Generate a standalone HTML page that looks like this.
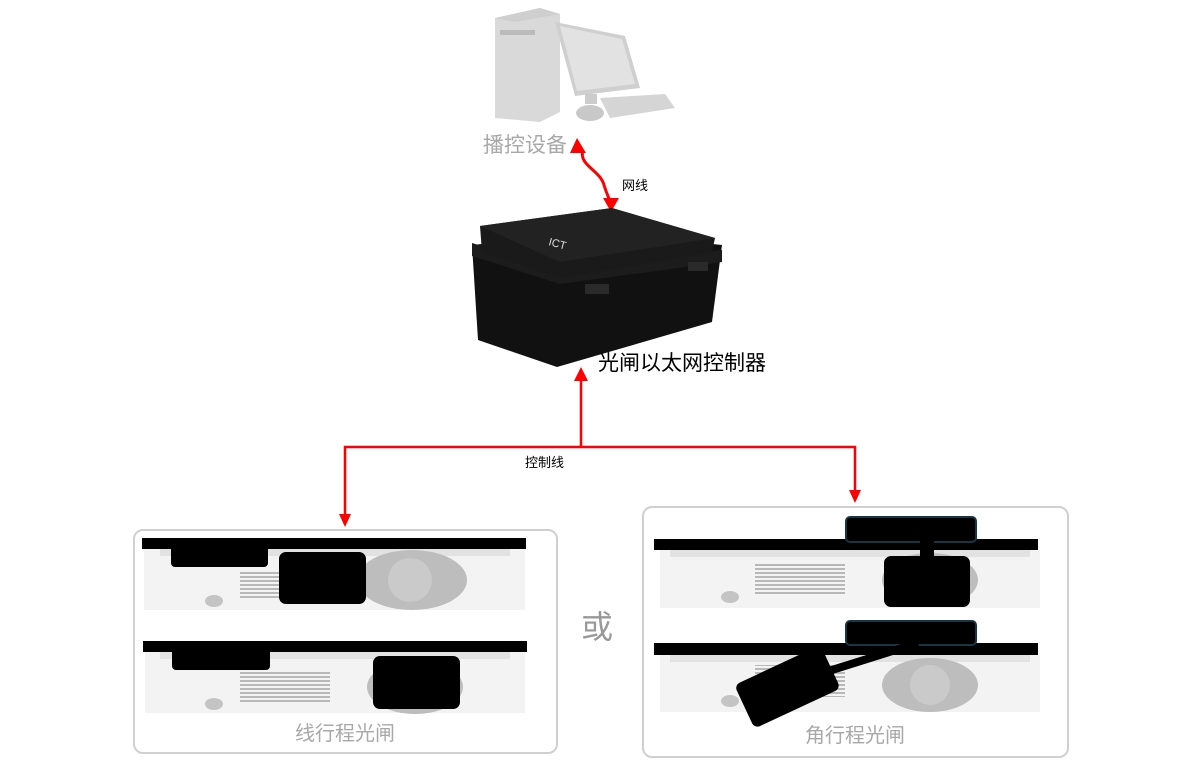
<!DOCTYPE html>
<html><head><meta charset="utf-8"><style>
html,body{margin:0;padding:0;background:#fff;}
svg{display:block;font-family:"Liberation Sans","Noto Sans CJK SC",sans-serif;}
</style></head><body>
<svg width="1200" height="771" viewBox="0 0 1200 771" xmlns="http://www.w3.org/2000/svg">
<defs>
<pattern id="vent" width="10" height="4" patternUnits="userSpaceOnUse">
<rect width="10" height="4" fill="#f3f3f3"/><rect width="10" height="2" fill="#b8b8b8"/></pattern>
</defs>
<!-- computer -->
<g>
<polygon points="495,18 540,8 560,14 560,112 540,122 495,118" fill="#d9d9d9"/>
<polygon points="495,18 540,8 560,14 515,22" fill="#cfcfcf"/>
<rect x="500" y="30" width="35" height="5" fill="#bbb"/>
<polygon points="555,22 625,36 640,88 575,96" fill="#cfcfcf"/>
<polygon points="560,26 622,39 635,84 577,91" fill="#e2e2e2"/>
<rect x="585" y="94" width="12" height="10" fill="#ccc"/>
<polygon points="600,98 665,94 675,108 610,118" fill="#d5d5d5"/>
<ellipse cx="590" cy="113" rx="14" ry="8" fill="#c8c8c8"/>
</g>
<text x="483" y="152" font-size="21" fill="#a8a8a8">播控设备</text>
<!-- wavy arrow -->
<path d="M583,150 C578,165 600,170 604,185 C607,195 610,200 610,202" stroke="#f00" stroke-width="3" fill="none"/>
<polygon points="577,138 570,153 586,153" fill="#f00"/>
<polygon points="611,212 603,198 619,198" fill="#f00"/>
<text x="622" y="190" font-size="13" fill="#000">网线</text>
<!-- box -->
<g>
<polygon points="472,245 478,340 557,367 712,322 722,245 600,232" fill="#111"/>
<polygon points="472,243 560,270 722,250 722,262 560,284 472,256" fill="#1c1c1c"/>
<polygon points="480,226 612,208 715,238 712,252 560,278 482,252" fill="#1a1a1a"/>
<polygon points="480,226 612,208 715,238 560,262" fill="#222"/>
<text x="548" y="245" font-size="11" fill="#ddd" transform="rotate(15 548 245)">ICT</text>
<rect x="585" y="284" width="24" height="10" fill="#2a2a2a"/>
<rect x="688" y="262" width="20" height="9" fill="#2a2a2a"/>
</g>
<text x="598" y="370" font-size="21" fill="#000">光闸以太网控制器</text>
<!-- control lines -->
<path d="M581,447 L581,380" stroke="#f00" stroke-width="2.5" fill="none"/>
<polygon points="581,367 574,381 588,381" fill="#f00"/>
<path d="M345,514 L345,447 L855,447 L855,490" stroke="#f00" stroke-width="2.5" fill="none"/>
<polygon points="345,527 339,514 351,514" fill="#f00"/>
<polygon points="855,503 849,490 861,490" fill="#f00"/>
<text x="525" y="467" font-size="13" fill="#000">控制线</text>
<!-- left panel -->
<rect x="134" y="530" width="423" height="223" rx="9" fill="#fff" stroke="#d0d0d0" stroke-width="2"/>
<g>
<rect x="144" y="549" width="381" height="61" fill="#f3f3f3"/>
<rect x="160" y="548" width="350" height="8" fill="#e2e2e2"/>
<ellipse cx="412" cy="580" rx="55" ry="30" fill="#bdbdbd"/>
<circle cx="410" cy="580" r="22" fill="#cacaca"/>
<rect x="240" y="570" width="90" height="30" fill="url(#vent)"/>
<ellipse cx="214" cy="601" rx="9" ry="6" fill="#c4c4c4"/>
<rect x="142" y="538" width="384" height="11" fill="#000"/>
<rect x="171" y="540" width="97" height="27" rx="4" fill="#000"/>
<rect x="279" y="552" width="87" height="52" rx="7" fill="#000"/>
</g>
<g>
<rect x="145" y="652" width="380" height="61" fill="#f3f3f3"/>
<rect x="160" y="651" width="350" height="8" fill="#e2e2e2"/>
<ellipse cx="415" cy="687" rx="48" ry="27" fill="#bdbdbd"/>
<rect x="240" y="672" width="90" height="30" fill="url(#vent)"/>
<ellipse cx="214" cy="704" rx="9" ry="6" fill="#c4c4c4"/>
<rect x="143" y="641" width="384" height="11" fill="#000"/>
<rect x="172" y="645" width="98" height="25" rx="4" fill="#000"/>
<rect x="373" y="656" width="87" height="53" rx="7" fill="#000"/>
</g>
<text x="345" y="740" font-size="20" fill="#a8a8a8" text-anchor="middle">线行程光闸</text>
<text x="597" y="638" font-size="32" fill="#999" text-anchor="middle">或</text>
<!-- right panel -->
<rect x="643" y="507" width="425" height="250" rx="9" fill="#fff" stroke="#d0d0d0" stroke-width="2"/>
<g>
<rect x="660" y="550" width="380" height="58" fill="#f3f3f3"/>
<rect x="670" y="549" width="360" height="8" fill="#e2e2e2"/>
<ellipse cx="930" cy="580" rx="48" ry="27" fill="#bdbdbd"/>
<rect x="755" y="562" width="90" height="32" fill="url(#vent)"/>
<ellipse cx="730" cy="597" rx="9" ry="6" fill="#c4c4c4"/>
<rect x="654" y="539" width="384" height="11" fill="#000"/>
<rect x="846" y="517" width="130" height="25" rx="4" fill="#000" stroke="#163545" stroke-width="2"/>
<rect x="920" y="540" width="14" height="20" fill="#000"/>
<rect x="884" y="556" width="86" height="51" rx="7" fill="#000"/>
</g>
<g>
<rect x="660" y="655" width="380" height="57" fill="#f3f3f3"/>
<rect x="670" y="654" width="360" height="8" fill="#e2e2e2"/>
<ellipse cx="930" cy="685" rx="48" ry="27" fill="#bdbdbd"/>
<circle cx="930" cy="685" r="20" fill="#cacaca"/>
<rect x="755" y="665" width="90" height="32" fill="url(#vent)"/>
<ellipse cx="730" cy="701" rx="9" ry="6" fill="#c4c4c4"/>
<rect x="654" y="643" width="384" height="12" fill="#000"/>
<rect x="846" y="621" width="130" height="24" rx="4" fill="#000" stroke="#163545" stroke-width="2"/>
<line x1="800" y1="680" x2="918" y2="643" stroke="#000" stroke-width="8"/>
<rect x="740" y="663" width="95" height="48" rx="6" fill="#000" transform="rotate(-25 787 687)"/>
</g>
<text x="855" y="742" font-size="20" fill="#a8a8a8" text-anchor="middle">角行程光闸</text>
</svg>
</body></html>
